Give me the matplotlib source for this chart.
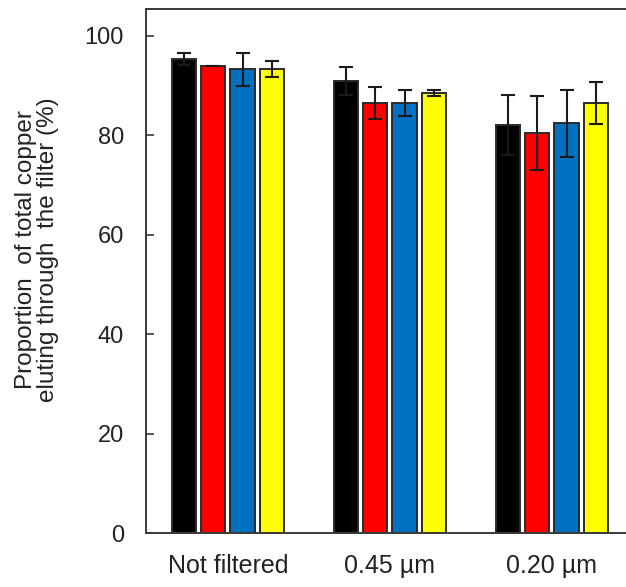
import numpy as np
import matplotlib
matplotlib.use("Agg")
import matplotlib.pyplot as plt

plt.rcParams["font.family"] = ["Liberation Sans", "DejaVu Sans"]

# Donnees
GROUPS = ["Not filtered", "0.45 µm", "0.20 µm"]
SERIES_COLORS = ["#000000", "#ff0000", "#0070c0", "#ffff00"]

VAL_S1 = [95.3, 91.0, 82.1]
VAL_S2 = [94.0, 86.5, 80.4]
VAL_S3 = [93.3, 86.5, 82.4]
VAL_S4 = [93.4, 88.5, 86.5]

ERR_S1 = [1.2, 2.8, 6.0]
ERR_S2 = [0.0, 3.2, 7.4]
ERR_S3 = [3.3, 2.6, 6.7]
ERR_S4 = [1.6, 0.6, 4.3]

YTICKS = [0, 20, 40, 60, 80, 100]

values = [VAL_S1, VAL_S2, VAL_S3, VAL_S4]
errors = [ERR_S1, ERR_S2, ERR_S3, ERR_S4]

fig = plt.figure(figsize=(6.26, 5.87), dpi=100)
ax = fig.add_axes([146 / 626, 1 - 533 / 587, 3.012 * 162 / 626, (533 - 9) / 587])

x = np.arange(len(GROUPS))
step = 0.182
width = 0.151
edge = "#2b2b2b"
for i, (vals, errs, col) in enumerate(zip(values, errors, SERIES_COLORS)):
    xpos = x + (i - 1.5) * step
    ax.bar(xpos, vals, width=width, color=col, edgecolor=edge, linewidth=1.4,
           zorder=2)
    ax.errorbar(xpos, vals, yerr=errs, fmt="none", ecolor="#1a1a1a",
                elinewidth=1.5, capsize=5, capthick=1.5, zorder=3)

ax.set_xlim(-0.506, 2.506)
ax.set_ylim(0, 105.4)
ax.set_yticks(YTICKS)
ax.set_xticks(x)
ax.set_xticklabels(GROUPS)

for s in ["left", "bottom", "top"]:
    ax.spines[s].set_color("#3a3a3a")
    ax.spines[s].set_linewidth(1.4)
ax.spines["right"].set_visible(False)

ax.tick_params(axis="y", direction="in", length=6, width=1.2, color="#3a3a3a",
               labelsize=17, pad=16, labelcolor="#222222")
ax.tick_params(axis="x", length=0, labelsize=18, pad=15, labelcolor="#222222")

fig.text(37 / 626, 1 - 250 / 587,
         "Proportion  of total copper\neluting through  the filter (%)",
         rotation=90, ha="center", va="center", multialignment="center",
         fontsize=17.5, color="#222222", linespacing=0.98)

fig.savefig("out.png", dpi=100)
